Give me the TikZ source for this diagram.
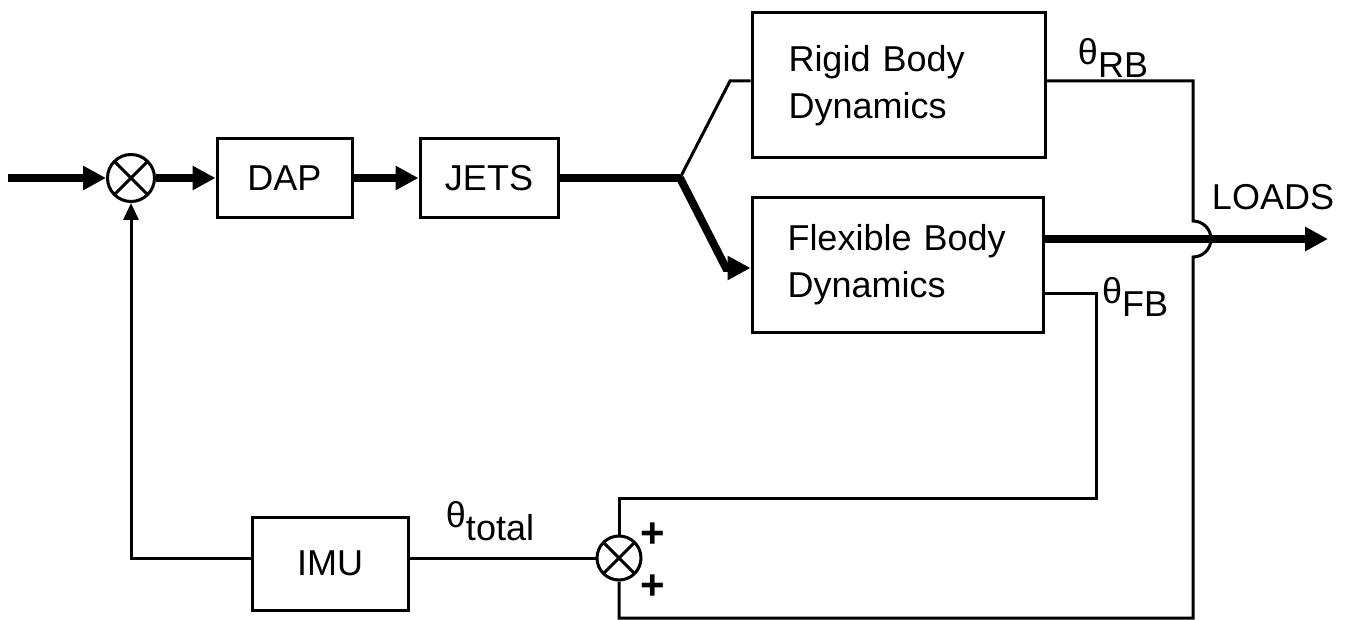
\documentclass[tikz,border=0pt]{standalone}
\usepackage{fontspec}
\setmainfont{Liberation Sans}
\usetikzlibrary{positioning,arrows.meta}

\newcommand{\lowsub}[1]{\raisebox{-0.35em}{#1}}

\begin{document}
\begin{tikzpicture}[x=1pt, y=-1pt,
  blk/.style={draw, line width=3pt, font=\fontsize{36}{47}\selectfont, align=left, inner sep=0pt},
  sumj/.style={draw, circle, line width=3pt, minimum size=47pt, inner sep=0pt,
    path picture={\draw[line width=3pt] (path picture bounding box.north west) -- (path picture bounding box.south east) (path picture bounding box.north east) -- (path picture bounding box.south west);}},
  thn/.style={line width=3pt},
  thk/.style={line width=8pt},
  arr/.style={thk, -{Triangle[length=23pt,width=23pt]}},
  farr/.style={thn, -{Triangle[length=17pt,width=15pt]}},
  lbl/.style={font=\fontsize{36}{40}\selectfont, inner sep=0pt}]

  \useasboundingbox (0,0) rectangle (1346,620);

  \node[sumj] (s1) at (131,178) {};
  \node[blk, minimum width=135pt, minimum height=79pt] (dap) at (284.5,178) {DAP};
  \node[blk, minimum width=138pt, minimum height=79pt] (jets) at (489,178) {JETS};
  \node[blk, minimum width=293pt, minimum height=145pt, text width=220pt] (rigid) at (898.5,85.5) {Rigid Body\\Dynamics};
  \node[blk, minimum width=291pt, minimum height=134pt, text width=220pt] (flex) at (897.5,265) {Flexible Body\\Dynamics};
  \node[blk, minimum width=156pt, minimum height=93pt] (imu) at (330,563.5) {IMU};
  \node[sumj, minimum size=44pt] (s2) at (619,558) {};

  \coordinate (in) at (8,178);
  \coordinate (br) at (680,178);
  \coordinate (rk) at (730,81);
  \coordinate (fk) at (726,268);
  \coordinate (ld) at (1328,239);
  \coordinate (rb) at (1193,81);
  \coordinate (jp) at (1193,239);
  \coordinate (bt) at (1193,618);
  \coordinate (fb) at (1096,293);
  \coordinate (tp) at (1096,498);

  \draw[arr] (in) -- (s1); \draw[arr] (s1) -- (dap); \draw[arr] (dap) -- (jets);
  \draw[thk] (jets.east) -- (br);
  \draw[thn] (br) -- (rk) -- (rk -| rigid.west);
  \draw[arr] (br) -- (fk) -- (fk -| flex.west);
  \draw[arr] (flex.east |- ld) -- (ld);
  \draw[thn] (rigid.east |- rb) -- (rb) -- ([yshift=18pt]jp) arc[start angle=90, end angle=-90, radius=18pt] -- (bt) -- (s2 |- bt) -- (s2.south);
  \draw[thn] (flex.east |- fb) -- (fb) -- (tp) -- (s2 |- tp) -- (s2.north);
  \draw[thn] (s2.west) -- (s2.west -| imu.east);
  \draw[farr] (imu.west |- s2) -- (s1 |- s2) -- (s1.south);

  \node[lbl] (trb) at (1113,58) {θ\lowsub{RB}};
  \node[lbl] (tfb) at (1135,297) {θ\lowsub{FB}};
  \node[lbl] (ttot) at (490,521) {θ\lowsub{total}};
  \node[lbl] (loads) at (1273,197) {LOADS};
  \node[lbl, font=\fontsize{42}{44}\selectfont\bfseries] (p1) at (653,535) {+};
  \node[lbl, font=\fontsize{42}{44}\selectfont\bfseries] (p2) at (653,587) {+};
\end{tikzpicture}
\end{document}
